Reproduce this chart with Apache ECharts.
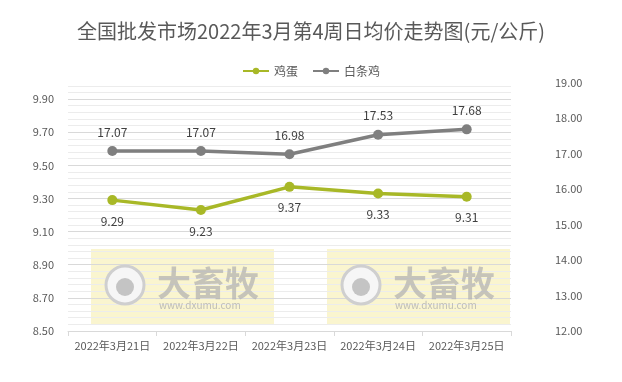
<!DOCTYPE html>
<html lang="zh-CN">
<head>
    <meta charset="UTF-8">
    <script src="https://cdn.jsdelivr.net/npm/echarts@6.0.0/dist/echarts.min.js"></script>
    <title>全国批发市场日均价</title>
    <style>
        html, body { margin: 0; padding: 0; background: #fff; }
    </style>
</head>
<body>
    <div id="chart" style="width: 622px;height:382px;"></div>
    <script>
        // 数据
        var dates = ['2022年3月21日', '2022年3月22日', '2022年3月23日', '2022年3月24日', '2022年3月25日'];
        var eggPrices = [9.29, 9.23, 9.37, 9.33, 9.31];
        var chickenPrices = [17.07, 17.07, 16.98, 17.53, 17.68];
        var leftLabels = [8.5, 8.7, 8.9, 9.1, 9.3, 9.5, 9.7, 9.9];
        var rightLabels = [12, 13, 14, 15, 16, 17, 18, 19];

        var chart = echarts.init(document.getElementById('chart'));
        var font = '"Noto Sans CJK SC", "Microsoft YaHei", sans-serif';

        // 水印 (大畜牧)
        function watermark(x) {
            return [
                { type: 'rect', left: x, top: 249, z: -1, shape: { width: 183, height: 75 },
                  style: { fill: 'rgba(245,236,160,0.5)' } },
                { type: 'circle', z: 1, shape: { cx: x + 34, cy: 285, r: 19 },
                  style: { fill: '#f6f6f6', stroke: '#cfcfcf', lineWidth: 3 } },
                { type: 'circle', z: 1, shape: { cx: x + 34, cy: 287, r: 9 },
                  style: { fill: '#c4c4c4' } },
                { type: 'text', z: 1, left: x + 66, top: 266,
                  style: { text: '大畜牧', fill: 'rgba(175,175,175,0.7)', font: 'bold 34px ' + font } },
                { type: 'text', z: 1, left: x + 68, top: 300,
                  style: { text: 'www.dxumu.com', fill: 'rgba(175,175,175,0.8)', font: '10px ' + font } }
            ];
        }

        var option = {
            backgroundColor: '#fff',
            textStyle: { fontFamily: font },
            title: {
                text: '全国批发市场2022年3月第4周日均价走势图(元/公斤)',
                left: 'center',
                top: 16,
                textStyle: { fontSize: 20, fontWeight: 'normal', color: '#595959', fontFamily: font }
            },
            legend: {
                data: ['鸡蛋', '白条鸡'],
                top: 60,
                left: 'center',
                itemWidth: 26,
                itemHeight: 8,
                itemGap: 14,
                textStyle: { fontSize: 12, color: '#595959' }
            },
            graphic: watermark(91).concat(watermark(327)),
            grid: { left: 68, right: 111, top: 82.5, bottom: 51 },
            xAxis: {
                type: 'category',
                data: dates,
                boundaryGap: true,
                axisLine: { lineStyle: { color: '#d9d9d9' } },
                axisTick: { show: true, length: 5, lineStyle: { color: '#d9d9d9' } },
                axisLabel: { color: '#595959', fontSize: 11, margin: 9, interval: 0, hideOverlap: false }
            },
            yAxis: [
                {
                    type: 'value',
                    min: 8.5,
                    max: 10,
                    interval: 0.04,
                    axisLine: { show: false },
                    axisTick: { show: false },
                    axisLabel: {
                        color: '#595959',
                        fontSize: 11,
                        margin: 14,
                        formatter: function (v) {
                            for (var i = 0; i < leftLabels.length; i++) {
                                if (Math.abs(leftLabels[i] - v) < 0.001) return v.toFixed(2);
                            }
                            return '';
                        }
                    },
                    splitLine: {
                        show: true,
                        showMaxLine: false,
                        lineStyle: { color: ['#d9d9d9', '#ececec', '#ececec', '#ececec', '#ececec'], width: 1 }
                    }
                },
                {
                    type: 'value',
                    min: 12,
                    max: 19,
                    interval: 1,
                    axisLine: { show: false },
                    axisTick: { show: false },
                    splitLine: { show: false },
                    axisLabel: {
                        color: '#595959',
                        fontSize: 11,
                        margin: 44,
                        formatter: function (v) {
                            return rightLabels.indexOf(v) >= 0 ? v.toFixed(2) : '';
                        }
                    }
                }
            ],
            series: [
                {
                    name: '鸡蛋',
                    type: 'line',
                    yAxisIndex: 0,
                    data: eggPrices,
                    symbol: 'circle',
                    symbolSize: 10,
                    z: 5,
                    itemStyle: { color: '#a8b827' },
                    lineStyle: { width: 3.5, color: '#a8b827' },
                    label: {
                        show: true,
                        position: 'bottom',
                        distance: 10,
                        color: '#404040',
                        fontSize: 12,
                        formatter: function (p) { return p.value.toFixed(2); }
                    }
                },
                {
                    name: '白条鸡',
                    type: 'line',
                    yAxisIndex: 1,
                    data: chickenPrices,
                    symbol: 'circle',
                    symbolSize: 10,
                    z: 5,
                    itemStyle: { color: '#7f7f7f' },
                    lineStyle: { width: 3.5, color: '#7f7f7f' },
                    label: {
                        show: true,
                        position: 'top',
                        distance: 8,
                        color: '#404040',
                        fontSize: 12,
                        formatter: function (p) { return p.value.toFixed(2); }
                    }
                }
            ]
        };

        chart.setOption(option);
    </script>
</body>
</html>
